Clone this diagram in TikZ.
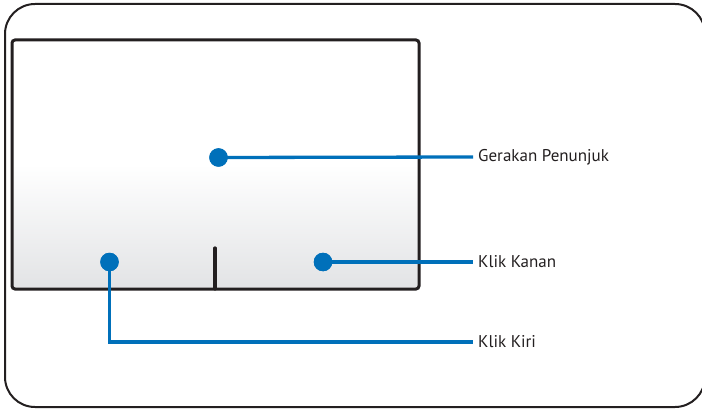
\documentclass[tikz,border=0pt]{standalone}
\usepackage{fontspec}
\setmainfont{PT Sans}
\definecolor{frame}{RGB}{35,31,32}
\definecolor{callout}{RGB}{0,112,186}
\definecolor{padgray}{RGB}{226,227,229}
\begin{document}
\begin{tikzpicture}[x=1pt,y=-1pt,
  dot/.style={circle,fill=callout,inner sep=0pt,minimum size=18.5pt},
  lbl/.style={anchor=west,inner sep=0pt,font=\fontsize{17}{20}\selectfont,text=frame},
  lead/.style={draw=callout,line width=3.3pt}]
\useasboundingbox (0,0) rectangle (702,409);
\clip (0,0) rectangle (702,409);
% outer frame
\draw[frame,line width=2pt,rounded corners=30pt] (5,4) rectangle (705,407);
% touchpad
\shade[top color=white,bottom color=padgray,middle color=white,rounded corners=3pt]
  (12,40) rectangle (419,289);
\draw[frame,line width=3pt,rounded corners=3pt] (12,40) rectangle (419,289);
% divider
\draw[frame,line width=3.2pt,line cap=round] (215,248) -- (215,289);
% dots
\node[dot] (gp) at (218.5,157.5) {};
\node[dot] (kn) at (323,262) {};
\node[dot] (ki) at (109.5,262) {};
% labels
\node[lbl] (gpl) at (478,157) {Gerakan Penunjuk};
\node[lbl] (knl) at (478,262) {Klik Kanan};
\node[lbl] (kil) at (478,342) {Klik Kiri};
% leaders
\draw[lead] (gp.center) -- ([xshift=-5pt]gpl.west);
\draw[lead] (kn.center) -- ([xshift=-5pt]knl.west);
\draw[lead] (ki.center) |- ([xshift=-5pt]kil.west);
\node[dot] at (gp) {};
\node[dot] at (kn) {};
\node[dot] at (ki) {};
\end{tikzpicture}
\end{document}
